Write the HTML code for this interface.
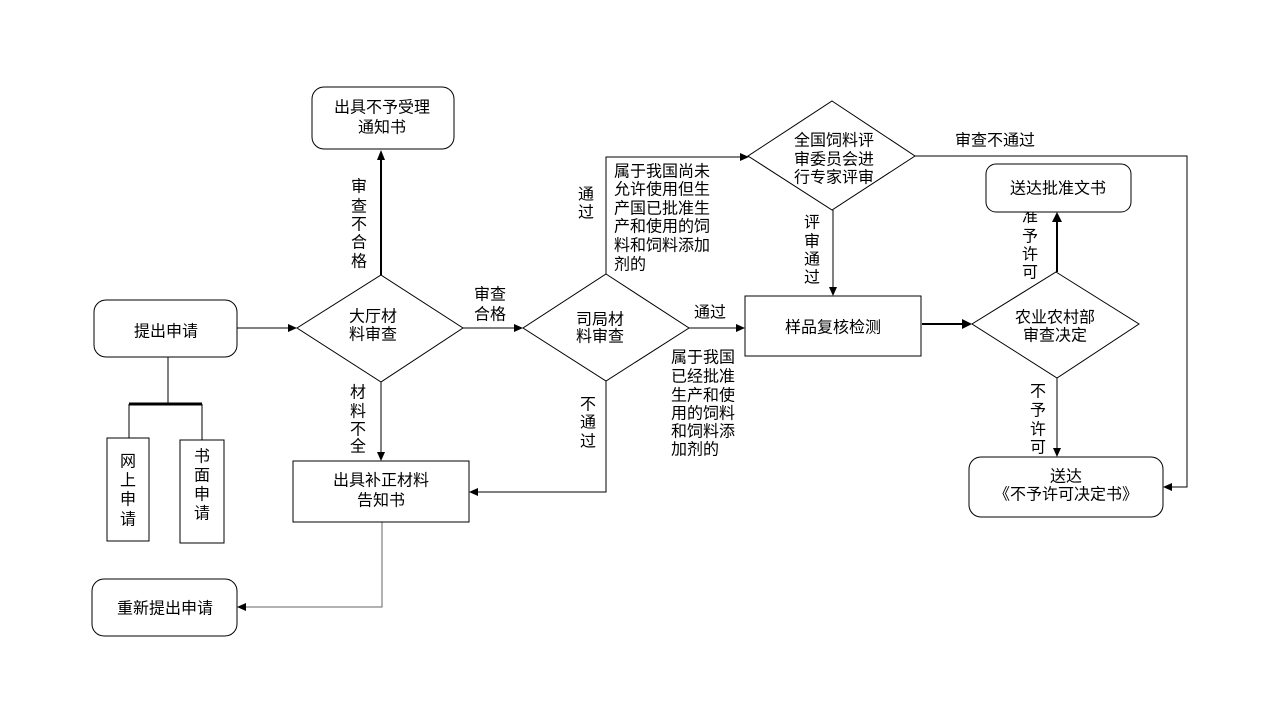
<!DOCTYPE html>
<html>
<head>
<meta charset="utf-8">
<style>
html,body{margin:0;padding:0;background:#fff;}
svg{display:block;}
text{font-family:"Liberation Sans","Noto Sans CJK SC","WenQuanYi Zen Hei",sans-serif;font-size:16px;fill:#000;}
</style>
</head>
<body>
<svg width="1280" height="720" viewBox="0 0 1280 720" xmlns="http://www.w3.org/2000/svg">
<rect width="1280" height="720" fill="#fff"/>
<g stroke="#000" stroke-width="1" fill="none">
  <!-- 提出申请 -> 大厅 -->
  <line x1="237" y1="328" x2="290" y2="328"/>
  <!-- 大厅 top -> 不予受理 (thick) -->
  <line x1="381" y1="275" x2="381" y2="158" stroke-width="2"/>
  <!-- 大厅 -> 司局 -->
  <line x1="463" y1="328" x2="516" y2="328"/>
  <!-- 大厅 bottom -> 补正 -->
  <line x1="381" y1="382" x2="381" y2="454"/>
  <!-- 司局 top -> 全国 -->
  <polyline points="606,274 606,157 742,157"/>
  <!-- 司局 right -> 样品 -->
  <line x1="689" y1="328" x2="738" y2="328"/>
  <!-- 司局 bottom -> 补正 -->
  <polyline points="606,381 606,492 476,492"/>
  <!-- 补正 -> 重新提出 -->
  <polyline points="382,522 382,607 244,607" stroke="#666"/>
  <!-- 提出申请 tree -->
  <line x1="168" y1="357" x2="168" y2="404"/>
  <line x1="129" y1="404" x2="202" y2="404" stroke-width="3"/>
  <line x1="129" y1="404" x2="129" y2="438"/>
  <line x1="202" y1="404" x2="202" y2="440"/>
  <!-- 全国 bottom -> 样品 -->
  <line x1="833" y1="210" x2="833" y2="289"/>
  <!-- 全国 right -> 不予许可 -->
  <polyline points="915,156 1187,156 1187,487 1170,487"/>
  <!-- 样品 -> 农业 (thick) -->
  <line x1="922" y1="324" x2="964" y2="324" stroke-width="2"/>
  <!-- 农业 top -> 送达批准 (thick) -->
  <line x1="1057" y1="272" x2="1057" y2="220" stroke-width="2"/>
  <!-- 农业 bottom -> 送达不予 -->
  <line x1="1057" y1="378" x2="1057" y2="450"/>
</g>
<!-- arrowheads -->
<g fill="#000">
  <polygon points="297,328 288,324 288,332"/>
  <polygon points="381,150 377,160 385,160"/>
  <polygon points="523,328 514,324 514,332"/>
  <polygon points="381,461 377,452 385,452"/>
  <polygon points="749,157 740,153 740,161"/>
  <polygon points="745,328 736,324 736,332"/>
  <polygon points="469,492 478,488 478,496"/>
  <polygon points="237,607 246,603 246,611"/>
  <polygon points="833,296 829,287 837,287"/>
  <polygon points="1163,487 1172,483 1172,491"/>
  <polygon points="972,324 962,319 962,329"/>
  <polygon points="1057,212 1052,222 1062,222"/>
  <polygon points="1057,457 1053,448 1061,448"/>
</g>
<!-- labels on connectors -->
<g text-anchor="middle" dominant-baseline="central">
  <text x="359" y="187">审</text><text x="359" y="207">查</text><text x="359" y="225">不</text><text x="359" y="243">合</text><text x="359" y="262">格</text>
  <text x="490" y="295">审查</text><text x="490" y="315">合格</text>
  <text x="358" y="393">材</text><text x="358" y="412">料</text><text x="358" y="430">不</text><text x="358" y="447">全</text>
  <text x="586" y="195">通</text><text x="586" y="213">过</text>
  <text x="710" y="313">通过</text>
  <text x="588" y="405">不</text><text x="588" y="423">通</text><text x="588" y="442">过</text>
  <text x="995" y="141">审查不通过</text>
  <text x="812" y="223">评</text><text x="812" y="242">审</text><text x="812" y="260">通</text><text x="812" y="278">过</text>
  <text x="1030" y="217">准</text><text x="1030" y="237">予</text><text x="1030" y="255">许</text><text x="1030" y="273">可</text>
  <text x="1038" y="392">不</text><text x="1038" y="411">予</text><text x="1038" y="430">许</text><text x="1038" y="448">可</text>
</g>
<g dominant-baseline="central">
  <text x="614" y="172">属于我国尚未</text>
  <text x="614" y="190">允许使用但生</text>
  <text x="614" y="209">产国已批准生</text>
  <text x="614" y="227">产和使用的饲</text>
  <text x="614" y="246">料和饲料添加</text>
  <text x="614" y="265">剂的</text>
  <text x="671" y="358">属于我国</text>
  <text x="671" y="377">已经批准</text>
  <text x="671" y="396">生产和使</text>
  <text x="671" y="414">用的饲料</text>
  <text x="671" y="432">和饲料添</text>
  <text x="671" y="450">加剂的</text>
</g>
<!-- shapes -->
<g stroke="#000" stroke-width="1" fill="#fff">
  <rect x="312" y="87" width="142" height="62" rx="12"/>
  <rect x="94" y="300" width="143" height="57" rx="12"/>
  <rect x="107" y="438" width="42" height="103"/>
  <rect x="180" y="440" width="44" height="103"/>
  <rect x="293" y="461" width="176" height="61"/>
  <rect x="92" y="579" width="145" height="57" rx="12"/>
  <rect x="745" y="296" width="176" height="60"/>
  <rect x="986" y="164" width="145" height="48" rx="10"/>
  <rect x="969" y="457" width="194" height="60" rx="12"/>
  <polygon points="381,275 463,328 381,382 297,328"/>
  <polygon points="606,274 689,328 606,381 523,328"/>
  <polygon points="832,101 915,156 832,210 748,156"/>
  <polygon points="1056,272 1139,324 1057,378 972,324"/>
</g>
<!-- shape texts -->
<g text-anchor="middle" dominant-baseline="central">
  <text x="382" y="108">出具不予受理</text>
  <text x="382" y="128">通知书</text>
  <text x="166" y="332">提出申请</text>
  <text x="128" y="462">网</text><text x="128" y="481">上</text><text x="128" y="500">申</text><text x="128" y="520">请</text>
  <text x="202" y="457">书</text><text x="202" y="476">面</text><text x="202" y="495">申</text><text x="202" y="514">请</text>
  <text x="381" y="481">出具补正材料</text>
  <text x="381" y="501">告知书</text>
  <text x="165" y="609">重新提出申请</text>
  <text x="373" y="317">大厅材</text>
  <text x="373" y="335">料审查</text>
  <text x="600" y="320">司局材</text>
  <text x="600" y="337">料审查</text>
  <text x="834" y="141">全国饲料评</text>
  <text x="834" y="160">审委员会进</text>
  <text x="834" y="178">行专家评审</text>
  <text x="833" y="328">样品复核检测</text>
  <text x="1055" y="318">农业农村部</text>
  <text x="1055" y="336">审查决定</text>
  <text x="1058" y="189">送达批准文书</text>
  <text x="1066" y="477">送达</text>
  <text x="1066" y="495">《不予许可决定书》</text>
</g>
</svg>
</body>
</html>
